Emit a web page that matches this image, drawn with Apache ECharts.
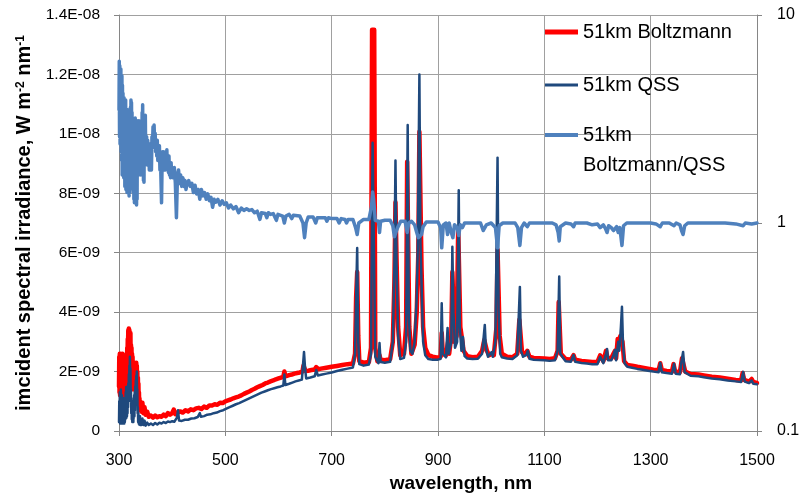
<!DOCTYPE html>
<html>
<head>
<meta charset="utf-8">
<script src="https://cdn.jsdelivr.net/npm/echarts@6/dist/echarts.min.js"></script>
<style>
html,body{margin:0;padding:0;background:#fff;}
#c{width:807px;height:500px;}
</style>
</head>
<body>
<div id="c"></div>
<script>
// wavelength axis ticks (nm)
const xTicks = [300, 500, 700, 900, 1100, 1300, 1500];
// left axis ticks (value in units of 1E-09 W m-2 nm-1) and their labels
const yTickValues = [0, 2, 4, 6, 8, 10, 12, 14];
const yTickLabels = ['0', '2E-09', '4E-09', '6E-09', '8E-09', '1E-08', '1.2E-08', '1.4E-08'];
// right (log) axis ticks and labels
const rTickValues = [0.1, 1, 10];
const rTickLabels = ['0.1', '1', '10'];

const seriesNames = ['51km Boltzmann', '51km QSS', '51km Boltzmann/QSS'];

// [wavelength nm, irradiance in 1E-09 W m-2 nm-1]
const boltzmann = [[300,1.5],[300.5,2.5],[301,1.3],[301.5,2.6],[302,1.2],[302.5,2.55],[303,1.7],[303.5,2.6],[304,1.4],[304.5,2.4],[305,1.6],[305.5,2.55],[306,1.3],[306.5,2.6],[307,1.5],[307.5,2.35],[308,1.2],[308.5,2.2],[309,1.4],[309.5,2.4],[310,1.15],[310.5,2.1],[311,1.5],[311.5,2.3],[312,1.3],[312.5,2.5],[313,1.6],[313.5,2.45],[314,1.4],[314.5,2.6],[315,2.0],[315.5,2.8],[316,2.5],[316.5,3.1],[317,2.9],[317.5,3.4],[318,3.1],[318.5,3.45],[319,3.0],[319.5,3.4],[320,2.6],[320.5,3.3],[321,2.5],[321.5,3.3],[322,2.2],[322.5,2.9],[323,2.1],[323.5,2.8],[324,1.8],[324.5,2.6],[325,1.6],[325.5,2.5],[326,1.5],[326.5,2.3],[327,1.4],[327.5,2.2],[328,1.45],[328.5,2.3],[329,1.6],[329.5,2.2],[330,1.5],[330.5,2.1],[331,1.45],[331.5,2.25],[332,1.7],[332.5,2.3],[333,1.6],[333.5,2.2],[334,1.5],[334.5,2.0],[335,1.3],[335.5,1.8],[336,1.2],[336.5,1.6],[337,1.0],[337.5,1.3],[338,0.9],[338.5,1.1],[339,0.8],[339.5,1.0],[340,0.7],[341,0.95],[342,0.65],[344,0.95],[346,0.6],[348,0.8],[350,0.55],[353,0.65],[356,0.48],[360,0.52],[364,0.45],[368,0.52],[372,0.46],[376,0.5],[380,0.48],[384,0.55],[388,0.5],[392,0.6],[396,0.55],[400,0.6],[403,0.72],[406,0.57],[410,0.62],[415,0.66],[420,0.62],[425,0.7],[430,0.66],[435,0.73],[440,0.7],[445,0.76],[450,0.78],[455,0.74],[460,0.82],[465,0.78],[470,0.86],[475,0.86],[480,0.9],[485,0.88],[490,0.95],[495,0.94],[500,1.0],[505,1.03],[510,1.06],[515,1.1],[520,1.13],[525,1.16],[530,1.2],[535,1.25],[540,1.29],[545,1.33],[550,1.38],[555,1.42],[560,1.47],[565,1.51],[570,1.55],[575,1.6],[580,1.63],[585,1.67],[590,1.7],[595,1.74],[600,1.77],[605,1.8],[609,1.82],[611,2.0],[613,1.84],[620,1.88],[625,1.9],[630,1.93],[635,1.95],[640,1.97],[645,2.0],[647,2.2],[649,2.22],[651,2.02],[656,2.03],[662,2.05],[668,2.07],[671,2.15],[674,2.08],[680,2.1],[690,2.13],[700,2.16],[710,2.19],[720,2.22],[730,2.25],[740,2.27],[744,2.6],[746,4.5],[748,5.35],[750,3.2],[752,2.35],[760,2.3],[770,2.32],[774,2.8],[776,13.5],[778,13.5],[780,13.5],[782,2.8],[786,2.35],[790,2.55],[792,2.4],[800,2.38],[810,2.42],[815,3.0],[818,5.0],[820,7.7],[822,5.8],[825,3.5],[829,2.55],[836,2.6],[840,3.5],[842,9.06],[844,9.06],[846,3.5],[850,2.6],[856,2.9],[860,4.0],[863,6.0],[865,10.07],[867,10.07],[869,5.5],[872,3.5],[876,2.8],[882,2.55],[890,2.5],[900,2.47],[905,2.5],[907,3.3],[909,2.6],[915,2.55],[919,3.0],[921,2.6],[925,3.2],[927,5.35],[929,5.35],[931,3.0],[935,3.2],[938,6.8],[940,6.8],[942,3.5],[946,3.0],[948,2.7],[955,2.52],[965,2.48],[975,2.5],[983,2.7],[987,3.06],[989,3.06],[992,2.7],[996,2.55],[1001,2.6],[1005,2.55],[1010,3.5],[1012,6.1],[1014,6.1],[1016,3.2],[1020,2.6],[1030,2.5],[1040,2.48],[1049,2.6],[1053,3.74],[1055,3.74],[1058,2.65],[1064,2.6],[1068,2.7],[1072,2.5],[1080,2.46],[1090,2.45],[1100,2.44],[1110,2.42],[1120,2.45],[1125,2.7],[1127,4.34],[1129,4.34],[1131,2.6],[1140,2.42],[1150,2.4],[1155,2.55],[1158,2.4],[1170,2.36],[1180,2.34],[1190,2.32],[1200,2.33],[1205,2.55],[1208,2.6],[1211,2.35],[1216,2.7],[1219,2.45],[1226,2.45],[1230,2.6],[1233,2.7],[1235,2.45],[1238,3.1],[1240,2.9],[1243,3.2],[1245,3.23],[1247,3.0],[1250,2.35],[1256,2.22],[1265,2.2],[1275,2.16],[1285,2.13],[1295,2.1],[1305,2.06],[1315,2.05],[1318,2.28],[1321,2.05],[1330,2.02],[1340,2.0],[1343,2.25],[1346,2.0],[1355,1.98],[1359,2.45],[1362,2.5],[1365,2.0],[1375,1.92],[1390,1.9],[1400,1.87],[1415,1.83],[1430,1.8],[1445,1.76],[1460,1.72],[1470,1.7],[1473,1.95],[1476,1.72],[1485,1.66],[1490,1.75],[1493,1.65],[1500,1.62]];

// [wavelength nm, irradiance in 1E-09 W m-2 nm-1]
const qss = [[300,0.3],[300.5,1.0],[301,0.4],[301.5,1.3],[302,0.25],[302.5,0.9],[303,0.35],[303.5,1.4],[304,0.3],[304.5,0.8],[305,0.25],[305.5,1.2],[306,0.4],[306.5,1.0],[307,0.3],[307.5,0.7],[308,0.25],[308.5,1.1],[309,0.35],[309.5,0.9],[310,0.25],[310.5,0.6],[311,0.3],[311.5,1.0],[312,0.4],[312.5,1.3],[313,0.5],[313.5,1.48],[314,0.45],[314.5,1.1],[315,0.5],[315.5,1.3],[316,0.6],[316.5,1.5],[317,0.8],[317.5,1.6],[318,1.0],[318.5,1.9],[319,1.3],[319.5,2.2],[320,1.6],[320.5,2.5],[321,1.7],[321.5,2.1],[322,1.0],[322.5,1.4],[323,0.6],[323.5,1.1],[324,0.4],[324.5,0.9],[325,0.3],[325.5,1.0],[326,0.35],[326.5,0.8],[327,0.3],[327.5,1.0],[328,0.45],[328.5,1.2],[329,0.5],[329.5,1.3],[330,0.7],[330.5,1.5],[331,0.9],[331.5,1.7],[332,1.1],[332.5,1.85],[333,1.3],[333.5,2.0],[334,1.2],[334.5,1.4],[335,0.6],[335.5,0.8],[336,0.3],[336.5,0.6],[337,0.25],[337.5,0.5],[338,0.22],[338.5,0.45],[339,0.25],[339.5,0.5],[340,0.2],[341,0.4],[342,0.2],[344,0.42],[346,0.2],[348,0.35],[350,0.18],[353,0.28],[356,0.2],[360,0.25],[364,0.2],[368,0.27],[372,0.22],[376,0.28],[380,0.25],[384,0.3],[388,0.27],[392,0.32],[396,0.3],[400,0.33],[404,0.31],[409,0.45],[411,0.7],[413,0.35],[418,0.34],[424,0.38],[430,0.38],[436,0.42],[442,0.43],[448,0.47],[452,0.6],[454,0.48],[460,0.5],[466,0.55],[472,0.56],[478,0.6],[484,0.62],[490,0.67],[496,0.7],[502,0.75],[508,0.8],[514,0.85],[520,0.9],[526,0.94],[532,0.99],[538,1.04],[544,1.09],[550,1.14],[556,1.19],[562,1.24],[568,1.29],[574,1.33],[580,1.37],[586,1.41],[592,1.44],[598,1.47],[604,1.5],[609,1.53],[611,1.9],[613,1.55],[620,1.59],[626,1.63],[632,1.67],[638,1.7],[644,1.73],[646,2.2],[648,2.66],[650,2.1],[652,1.77],[660,1.8],[668,1.84],[671,2.05],[674,1.87],[682,1.9],[690,1.93],[700,1.97],[710,2.02],[720,2.06],[730,2.1],[740,2.14],[744,2.6],[746,4.5],[748,6.16],[750,3.0],[752,2.25],[760,2.2],[770,2.24],[774,2.6],[777,9.7],[779,9.7],[782,2.5],[788,2.28],[790,2.96],[792,2.32],[800,2.3],[810,2.33],[815,3.0],[818,5.6],[820,9.1],[822,5.6],[825,3.2],[829,2.42],[836,2.46],[840,3.0],[843,10.3],[845,4.0],[848,2.7],[852,2.6],[856,3.0],[860,4.5],[862,6.2],[865,12.0],[867,6.3],[869,5.0],[872,3.0],[876,2.55],[882,2.42],[890,2.4],[900,2.4],[905,2.43],[907,4.3],[909,2.6],[915,2.48],[918,3.47],[920,2.6],[925,3.0],[927,6.2],[929,4.0],[932,2.8],[936,3.0],[939,8.1],[941,3.5],[944,2.7],[947,3.16],[950,2.52],[955,2.44],[965,2.42],[975,2.43],[983,2.6],[988,3.57],[990,2.8],[994,2.5],[1001,2.66],[1003,2.5],[1008,3.0],[1012,9.2],[1014,4.0],[1017,2.6],[1020,2.48],[1030,2.44],[1040,2.42],[1049,2.55],[1054,4.85],[1056,2.7],[1060,2.5],[1066,2.55],[1069,2.7],[1072,2.43],[1080,2.4],[1090,2.39],[1100,2.38],[1110,2.36],[1120,2.38],[1125,2.7],[1128,5.2],[1130,2.6],[1140,2.35],[1150,2.33],[1155,2.56],[1158,2.33],[1170,2.29],[1180,2.27],[1190,2.25],[1200,2.25],[1205,2.5],[1208,2.56],[1211,2.28],[1216,2.6],[1218,2.76],[1220,2.38],[1226,2.38],[1230,2.55],[1233,2.73],[1235,2.38],[1239,3.0],[1241,2.7],[1244,3.5],[1246,4.18],[1248,2.9],[1251,2.28],[1256,2.16],[1265,2.13],[1275,2.09],[1285,2.06],[1295,2.03],[1305,2.0],[1315,1.98],[1318,2.29],[1321,1.98],[1330,1.95],[1340,1.93],[1344,2.26],[1347,1.93],[1355,1.91],[1358,2.35],[1361,2.66],[1364,1.98],[1375,1.86],[1390,1.84],[1400,1.81],[1415,1.77],[1430,1.74],[1445,1.7],[1460,1.67],[1470,1.65],[1474,1.99],[1477,1.66],[1485,1.61],[1490,1.7],[1493,1.59],[1500,1.57]];

// [wavelength nm, Boltzmann/QSS ratio]
const ratio = [[300,3.5],[300.5,6.0],[301,2.6],[301.5,5.7],[302,2.4],[302.5,5.2],[303,3.0],[303.5,5.5],[304,2.2],[304.5,4.8],[305,2.0],[305.5,5.1],[306,1.7],[306.5,4.6],[307,2.4],[307.5,4.2],[308,1.8],[308.5,3.6],[309,1.65],[309.5,4.0],[310,2.1],[310.5,3.7],[311,1.5],[311.5,3.2],[312,1.8],[312.5,3.9],[313,1.45],[313.5,2.8],[314,1.6],[314.5,3.3],[315,1.4],[315.5,2.6],[316,1.9],[316.5,3.5],[317,1.55],[317.5,3.0],[318,1.4],[318.5,2.4],[319,1.35],[319.5,2.0],[320,1.39],[320.5,2.8],[321,1.6],[321.5,3.6],[322,2.4],[322.5,3.9],[323,2.2],[323.5,3.8],[324,2.0],[324.5,3.4],[325,1.7],[325.5,3.0],[326,1.45],[326.5,2.6],[327,1.4],[327.5,2.2],[328,1.3],[328.5,2.4],[329,1.25],[329.5,2.9],[330,1.6],[330.5,3.2],[331,1.5],[331.5,2.5],[332,1.3],[332.5,1.9],[333,1.22],[333.5,2.4],[334,1.3],[334.5,2.7],[335,1.8],[335.5,3.1],[336,2.0],[336.5,2.9],[337,1.7],[337.5,3.1],[338,2.2],[338.5,2.6],[339,1.9],[339.5,2.4],[340,2.1],[340.5,2.8],[341,1.7],[341.5,2.3],[342,1.9],[342.5,3.0],[343,2.2],[343.5,3.4],[344,2.4],[344.5,3.7],[345,2.0],[345.5,3.2],[346,1.6],[346.5,2.4],[347,1.57],[347.5,2.5],[348,1.9],[348.5,3.0],[349,2.3],[349.5,3.3],[350,2.4],[351,2.0],[352,2.6],[353,1.9],[354,2.5],[355,2.1],[356,2.4],[357,1.8],[358,2.4],[359,1.9],[360,2.2],[361,1.8],[362,2.6],[363,2.3],[364,2.9],[365,2.5],[366,2.96],[367,2.4],[368,2.7],[369,2.2],[370,2.5],[371,2.1],[372,2.5],[373,2.0],[374,2.3],[375,2.0],[376,2.35],[377,1.8],[378,2.1],[379,1.6],[380,1.25],[381,1.9],[382,2.2],[383,1.9],[384,2.2],[385,1.8],[386,2.1],[387,1.8],[388,2.15],[389,1.9],[390,2.25],[391,1.85],[392,2.0],[393,1.75],[394,2.1],[395,1.7],[396,1.9],[397,1.65],[398,1.95],[399,1.7],[400,1.8],[402,1.65],[404,1.85],[406,1.55],[408,1.06],[410,1.7],[412,1.8],[414,1.55],[416,1.7],[418,1.5],[420,1.65],[422,1.5],[424,1.6],[426,1.45],[428,1.55],[431,1.6],[434,1.5],[437,1.55],[440,1.4],[443,1.52],[446,1.38],[449,1.45],[452,1.3],[455,1.45],[458,1.35],[461,1.4],[464,1.3],[467,1.38],[470,1.28],[473,1.33],[476,1.19],[479,1.3],[482,1.26],[486,1.3],[490,1.22],[494,1.28],[498,1.23],[502,1.25],[506,1.18],[510,1.22],[515,1.17],[520,1.2],[525,1.12],[530,1.18],[535,1.15],[540,1.17],[545,1.15],[550,1.16],[555,1.12],[560,1.14],[565,1.04],[568,1.12],[575,1.11],[578,1.06],[581,1.12],[585,1.1],[590,1.11],[596,1.03],[599,1.1],[608,1.08],[611,1.0],[614,1.08],[620,1.1],[625,1.05],[628,1.09],[640,1.08],[646,1.0],[649,0.85],[652,1.0],[656,1.07],[665,1.07],[670,1.0],[673,1.06],[680,1.06],[688,1.06],[691,1.02],[694,1.06],[700,1.05],[710,1.05],[714,1.0],[718,1.05],[725,1.04],[728,1.0],[731,1.04],[740,1.04],[745,0.95],[748,0.88],[751,1.0],[760,1.04],[770,1.04],[775,1.2],[777,1.41],[779,1.3],[782,1.03],[788,1.02],[790,0.9],[792,1.02],[800,1.03],[810,1.03],[815,0.97],[818,0.86],[821,0.85],[824,0.95],[830,1.02],[838,1.02],[842,0.9],[845,1.0],[850,1.02],[856,0.98],[860,0.9],[863,0.85],[866,0.84],[869,0.88],[872,0.96],[878,1.01],[890,1.01],[900,1.01],[905,0.95],[907,0.76],[910,0.98],[915,1.0],[918,0.88],[921,1.0],[925,0.9],[928,0.85],[931,0.98],[936,0.95],[939,0.87],[942,0.98],[946,0.95],[950,1.0],[960,1.0],[970,1.0],[980,1.0],[985,0.92],[988,0.9],[991,0.98],[1000,1.0],[1008,0.95],[1012,0.76],[1015,0.97],[1022,1.0],[1035,1.0],[1045,1.0],[1050,0.95],[1054,0.78],[1057,0.95],[1062,1.0],[1068,0.96],[1072,1.0],[1085,1.0],[1100,1.0],[1115,1.0],[1122,0.98],[1126,0.9],[1128,0.82],[1130,0.96],[1140,1.0],[1150,0.99],[1155,0.96],[1158,1.0],[1170,1.0],[1180,1.0],[1190,0.98],[1200,0.99],[1205,0.95],[1208,0.93],[1211,0.98],[1215,0.94],[1218,0.9],[1221,0.97],[1226,0.95],[1230,0.92],[1233,0.94],[1236,0.96],[1239,0.9],[1242,0.95],[1246,0.78],[1249,0.97],[1255,1.0],[1270,1.0],[1285,1.0],[1300,1.0],[1310,0.99],[1318,0.96],[1322,1.0],[1335,1.0],[1344,0.97],[1348,1.0],[1355,0.98],[1358,0.92],[1361,0.88],[1364,0.97],[1370,1.0],[1385,1.0],[1400,1.0],[1420,1.0],[1440,1.0],[1460,0.99],[1474,0.97],[1478,1.0],[1490,0.99],[1500,1.0]];

const FONT = "'Liberation Sans', Arial, sans-serif";
const chart = echarts.init(document.getElementById('c'), null, {renderer: 'canvas'});

function legendBox(name, top, iconH, lineH) {
  return {
    data: [name], orient: 'vertical', left: 545, top: top, padding: 0,
    icon: 'rect', itemWidth: 33, itemHeight: iconH,
    textStyle: {fontFamily: FONT, fontSize: 20, color: '#000', lineHeight: lineH}
  };
}
const lg3 = legendBox(seriesNames[2], 90, 4, 30);
lg3.formatter = function () { return '\n51km\nBoltzmann/QSS'; };

const option = {
  animation: false,
  backgroundColor: '#ffffff',
  grid: {left: 119, right: 50, top: 15, bottom: 69, containLabel: false},
  legend: [legendBox(seriesNames[0], 20, 5, 24), legendBox(seriesNames[1], 73, 3, 24), lg3],
  xAxis: {
    type: 'value', min: xTicks[0], max: xTicks[xTicks.length - 1], interval: 200,
    name: 'wavelength, nm', nameLocation: 'middle', nameGap: 40,
    nameTextStyle: {fontFamily: FONT, fontSize: 19, fontWeight: 'bold', color: '#000', padding: [0, 0, 0, 46]},
    axisLine: {show: true, lineStyle: {color: '#868686', width: 1}},
    axisTick: {show: true, inside: false, length: 5, lineStyle: {color: '#868686'}},
    axisLabel: {fontFamily: FONT, fontSize: 16, color: '#000', margin: 22, formatter: function (v) { return String(v); }},
    splitLine: {show: true, lineStyle: {color: '#a0a0a0', width: 1}}
  },
  yAxis: [
    {
      type: 'value', min: yTickValues[0], max: yTickValues[yTickValues.length - 1], interval: 2,
      position: 'left',
      name: 'imcident spectral irradiance, W m{sup|-2} nm{sup|-1}',
      nameLocation: 'middle', nameGap: 78, nameRotate: 90,
      nameTextStyle: {
        fontFamily: FONT, fontSize: 20, fontWeight: 'bold', color: '#000',
        rich: {sup: {fontFamily: FONT, fontSize: 12, fontWeight: 'bold', color: '#000', verticalAlign: 'top', padding: [0, 0, 9, 0]}}
      },
      axisLine: {show: true, lineStyle: {color: '#868686', width: 1}},
      axisTick: {show: true, inside: false, length: 5, lineStyle: {color: '#868686'}},
      axisLabel: {
        fontFamily: FONT, fontSize: 15.5, color: '#000', margin: 19,
        formatter: function (v) { const i = yTickValues.indexOf(Math.round(v)); return i >= 0 ? yTickLabels[i] : ''; }
      },
      splitLine: {show: true, lineStyle: {color: '#a0a0a0', width: 1}}
    },
    {
      type: 'log', logBase: 10, min: rTickValues[0], max: rTickValues[rTickValues.length - 1],
      position: 'right',
      axisLine: {show: true, lineStyle: {color: '#868686', width: 1}},
      axisTick: {show: true, inside: false, length: 5, lineStyle: {color: '#868686'}},
      axisLabel: {
        fontFamily: FONT, fontSize: 16, color: '#000', margin: 20,
        formatter: function (v) {
          for (let i = 0; i < rTickValues.length; i++) { if (Math.abs(v - rTickValues[i]) < 1e-9) return rTickLabels[i]; }
          return '';
        }
      },
      splitLine: {show: false},
      minorTick: {show: false}
    }
  ],
  series: [
    {
      name: seriesNames[0], type: 'line', yAxisIndex: 0, data: boltzmann,
      showSymbol: false, symbol: 'none', color: '#ff0000',
      lineStyle: {color: '#ff0000', width: 4.5, join: 'round', cap: 'round'}, z: 2
    },
    {
      name: seriesNames[1], type: 'line', yAxisIndex: 0, data: qss,
      showSymbol: false, symbol: 'none', color: '#1f497d',
      lineStyle: {color: '#1f497d', width: 2.5, join: 'round', cap: 'round'}, z: 3
    },
    {
      name: seriesNames[2], type: 'line', yAxisIndex: 1, data: ratio,
      showSymbol: false, symbol: 'none', color: '#4f81bd',
      lineStyle: {color: '#4f81bd', width: 3.5, join: 'round', cap: 'round'}, z: 4
    }
  ]
};
chart.setOption(option);
</script>
</body>
</html>
